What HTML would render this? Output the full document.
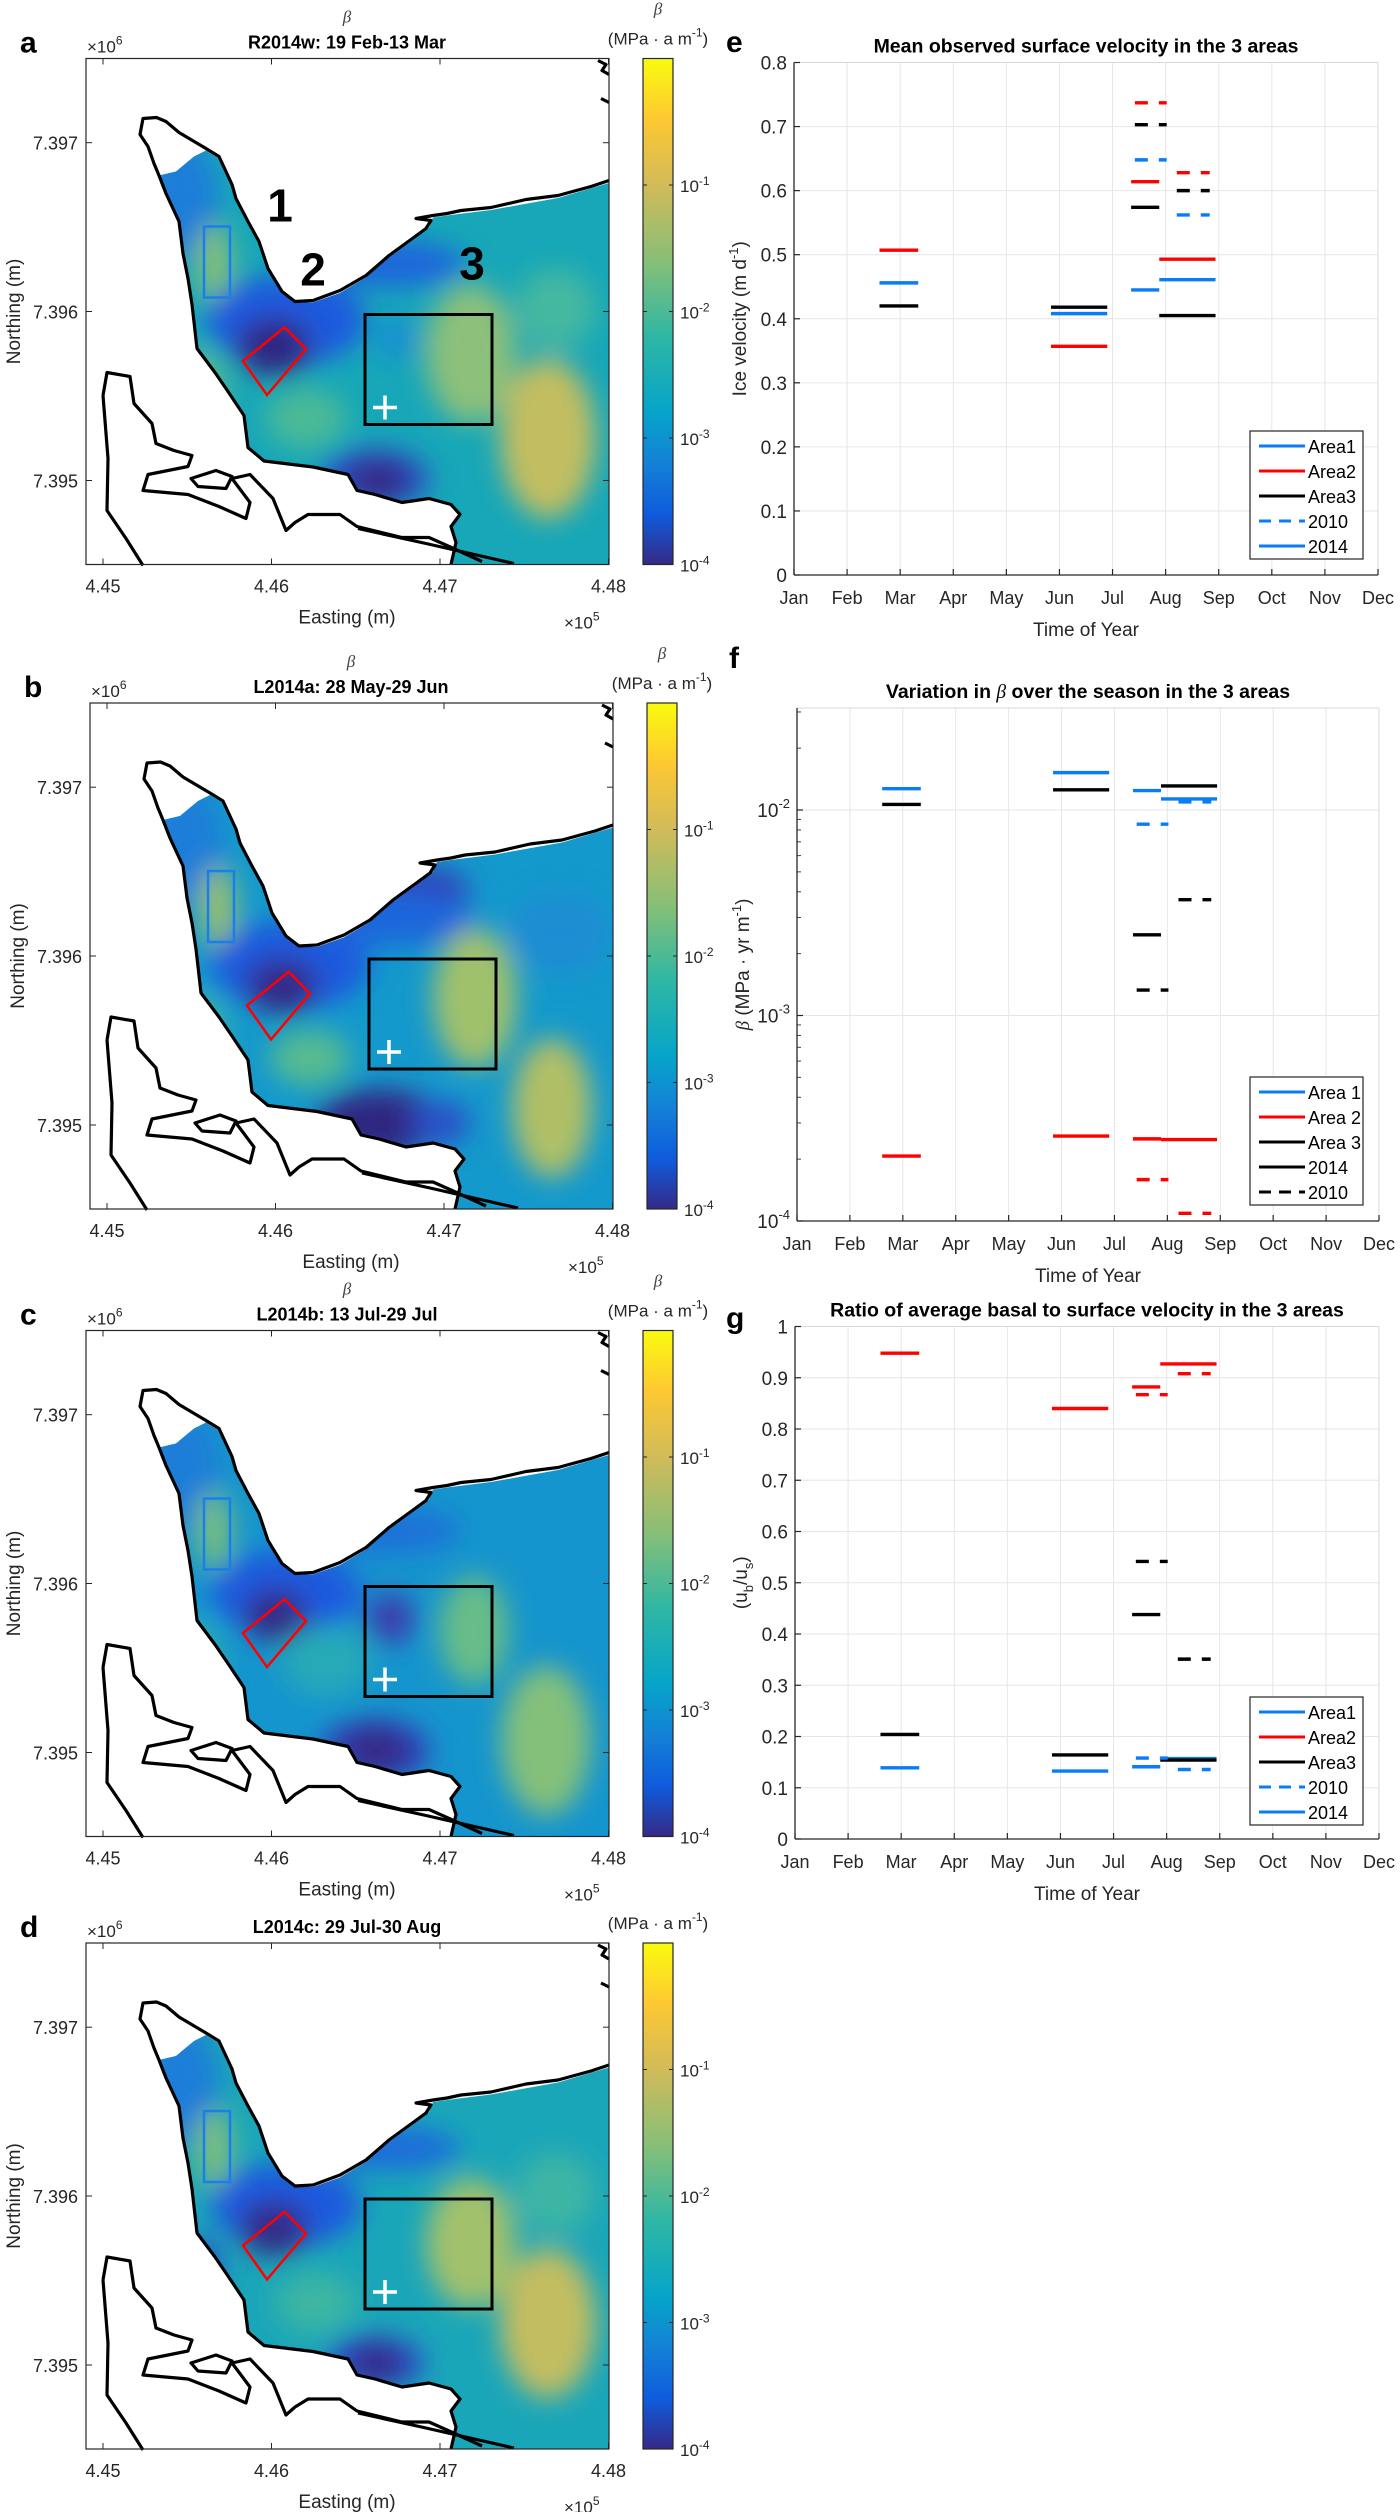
<!DOCTYPE html>
<html><head><meta charset="utf-8"><style>
html,body{margin:0;padding:0;background:#fff;}
svg{display:block;font-family:"Liberation Sans",Arial,sans-serif;}
</style></head><body>
<svg id="fig" xmlns="http://www.w3.org/2000/svg" width="1400" height="2512" viewBox="0 0 1400 2512">
<defs>
<linearGradient id="parula" x1="0" y1="1" x2="0" y2="0">
<stop offset="0" stop-color="#352a87"/><stop offset="0.1" stop-color="#0f5cdd"/><stop offset="0.2" stop-color="#1481d6"/><stop offset="0.3" stop-color="#06a4ca"/><stop offset="0.45" stop-color="#2eb7a4"/><stop offset="0.6" stop-color="#87bf77"/><stop offset="0.75" stop-color="#d1bb59"/><stop offset="0.88" stop-color="#fec832"/><stop offset="1" stop-color="#f9fb0e"/>
</linearGradient>
<filter id="blur" filterUnits="userSpaceOnUse" x="-200" y="-200" width="2000" height="3000"><feGaussianBlur stdDeviation="13"/></filter>
</defs>
</svg>
<script>
const NS='http://www.w3.org/2000/svg';
const svg=document.getElementById('fig');
function mk(tag,attrs,parent,text){const e=document.createElementNS(NS,tag);for(const k in attrs)e.setAttribute(k,attrs[k]);if(text!==undefined)e.textContent=text;(parent||svg).appendChild(e);return e;}

/* ---------------- chart data ---------------- */
const monthLabels=['Jan','Feb','Mar','Apr','May','Jun','Jul','Aug','Sep','Oct','Nov','Dec'];
const segStart2014=[2.61,5.84,7.35,7.88];
const segEnd2014=[3.34,6.90,7.88,8.94];
const segStart2010=[7.42,8.21];
const segEnd2010=[8.02,8.83];
// e: velocity
const velArea1_2014=[0.456,0.408,0.445,0.461];
const velArea2_2014=[0.507,0.357,0.614,0.493];
const velArea3_2014=[0.420,0.418,0.574,0.405];
const velArea1_2010=[0.648,0.562];
const velArea2_2010=[0.737,0.628];
const velArea3_2010=[0.703,0.600];
const velTicks=[0,0.1,0.2,0.3,0.4,0.5,0.6,0.7,0.8];
// f: beta
const betaArea1_2014=[0.0127,0.0152,0.01244,0.01132];
const betaArea2_2014=[2.07e-4,2.59e-4,2.51e-4,2.49e-4];
const betaArea3_2014=[0.01064,0.01254,2.47e-3,0.0131];
const betaArea1_2010=[8.53e-3,0.01094];
const betaArea2_2010=[1.59e-4,1.09e-4];
const betaArea3_2010=[1.33e-3,3.66e-3];
const betaTickExp=[-4,-3,-2];
// g: ratio
const ratioArea1_2014=[0.139,0.1325,0.141,0.157];
const ratioArea2_2014=[0.948,0.840,0.882,0.927];
const ratioArea3_2014=[0.204,0.164,0.438,0.154];
const ratioArea1_2010=[0.158,0.1356];
const ratioArea2_2010=[0.867,0.908];
const ratioArea3_2010=[0.5416,0.351];
const ratioTicks=[0,0.1,0.2,0.3,0.4,0.5,0.6,0.7,0.8,0.9,1];

const BLUE='#0a7cf5',RED='#ff0000',BLACK='#000000';

function drawChart(o){
  const g=mk('g',{});
  
  
  const xs=m=>o.L+(m-1)/11*(o.R-o.L);
  for(let m=1;m<=12;m++){
    const l=mk('line',{x1:xs(m),x2:xs(m),y1:o.T,y2:o.B,stroke:'#e6e6e6','stroke-width':1},g);
    
    
  }
  o.yticks.forEach(v=>{
    const y=o.ys(v);
    const l=mk('line',{x1:o.L,x2:o.R,y1:y,y2:y,stroke:'#e6e6e6','stroke-width':1},g);
    
    
  });
  if(o.minor){o.minor.forEach(v=>{const y=o.ys(v);const t=mk('line',{x1:o.L,x2:o.L+4,y1:y,y2:y,stroke:'#444','stroke-width':1},g);});}
  mk('line',{x1:o.R,x2:o.R,y1:o.T,y2:o.B,stroke:'#d8d8d8','stroke-width':1},g);
  mk('line',{x1:o.L,x2:o.R,y1:o.T,y2:o.T,stroke:'#d8d8d8','stroke-width':1},g);
  const ax=mk('line',{x1:o.L,x2:o.L,y1:o.T,y2:o.B,stroke:'#262626','stroke-width':1.3},g);
  
  
  const bx=mk('line',{x1:o.L,x2:o.R,y1:o.B,y2:o.B,stroke:'#262626','stroke-width':1.3},g);
  
  
  monthLabels.forEach((lab,i)=>{
    const x=xs(i+1);
    mk('line',{x1:x,x2:x,y1:o.B,y2:o.B-6,stroke:'#262626','stroke-width':1.2},g);
    const t=mk('text',{x:x,y:o.B+29,'text-anchor':'middle','font-size':18,fill:'#262626'},g,lab);
    
    
  });
  o.yticks.forEach((v,i)=>{
    const y=o.ys(v);
    mk('line',{x1:o.L,x2:o.L+6,y1:y,y2:y,stroke:'#262626','stroke-width':1.2},g);
    const t=mk('text',{x:o.L-7,y:y+7,'text-anchor':'end','font-size':19,fill:'#262626'},g);
    
    
    if(o.logLabels){mk('tspan',{},t,'10');mk('tspan',{dy:-9,'font-size':13},t,String(o.logLabels[i]));}
    else t.textContent=String(v);
  });
  o.series.forEach(s=>{
    s.vals.forEach((v,i)=>{
      const y=o.ys(v);
      const l=mk('line',{x1:xs(s.x0[i]),x2:xs(s.x1[i]),y1:y,y2:y,stroke:s.color,'stroke-width':3.4},g);
      if(s.dash)l.setAttribute('stroke-dasharray','13 11');
      
      
    });
  });
  const tt=mk('text',{x:(o.L+o.R)/2,y:o.T-10,'text-anchor':'middle','font-size':19.5,'font-weight':'bold',fill:'#000'},g);
  
  
  o.title.forEach(p=>{mk('tspan',p.it?{'font-family':'Liberation Serif, serif','font-style':'italic','font-weight':'normal'}:{},tt,p.t);});
  const lt=mk('text',{x:o.letterX,y:o.letterY,'font-size':30,'font-weight':'bold',fill:'#000'},g,o.letter);
  
  
  const xl=mk('text',{x:(o.L+o.R)/2,y:o.B+61,'text-anchor':'middle','font-size':19,fill:'#262626'},g,'Time of Year');
  
  
  const yl=mk('text',{x:0,y:0,'text-anchor':'middle','font-size':19,fill:'#262626',transform:`translate(${o.L-48},${(o.T+o.B)/2}) rotate(-90)`},g);
  
  
  o.ylabel(yl);
  const lg=mk('g',{},g);
  
  
  mk('rect',{x:1250,y:o.legY,width:113,height:128,fill:'#fff',stroke:'#262626','stroke-width':1.2},lg);
  o.legend.forEach((e,i)=>{
    const y=o.legY+15+i*25;
    const l=mk('line',{x1:1259,x2:1305,y1:y,y2:y,stroke:e.c,'stroke-width':3},lg);
    if(e.d)l.setAttribute('stroke-dasharray','12 8');
    const t=mk('text',{x:1308,y:y+7,'font-size':18,fill:'#000'},lg,e.t);
    
    
  });
}

(function(){
  const T=62.5,B=575;
  drawChart({name:'velocity-chart',L:794,R:1378,T:T,B:B,ys:v=>B-v/0.8*(B-T),yticks:velTicks,
    series:[
      {name:'area2-2014',color:RED,vals:velArea2_2014,x0:segStart2014,x1:segEnd2014},
      {name:'area1-2014',color:BLUE,vals:velArea1_2014,x0:segStart2014,x1:segEnd2014},
      {name:'area3-2014',color:BLACK,vals:velArea3_2014,x0:segStart2014,x1:segEnd2014},
      {name:'area1-2010',color:BLUE,dash:1,vals:velArea1_2010,x0:segStart2010,x1:segEnd2010},
      {name:'area2-2010',color:RED,dash:1,vals:velArea2_2010,x0:segStart2010,x1:segEnd2010},
      {name:'area3-2010',color:BLACK,dash:1,vals:velArea3_2010,x0:segStart2010,x1:segEnd2010}],
    title:[{t:'Mean observed surface velocity in the 3 areas'}],letter:'e',letterX:726,letterY:52,
    ylabel:t=>{mk('tspan',{},t,'Ice velocity (m d');mk('tspan',{dy:-8,'font-size':13},t,'-1');mk('tspan',{dy:8},t,')');},
    legY:431,legend:[{t:'Area1',c:BLUE},{t:'Area2',c:RED},{t:'Area3',c:BLACK},{t:'2010',c:BLUE,d:1},{t:'2014',c:BLUE}]});
})();
(function(){
  const T=708,B=1221,dec=205.5;
  const minor=[];for(let e=-4;e<-1;e++)for(let k=2;k<10;k++){const v=k*Math.pow(10,e);if(Math.log10(v)<=-1.5)minor.push(v);}
  drawChart({name:'beta-chart',L:797,R:1379,T:T,B:B,ys:v=>B-(Math.log10(v)+4)*dec,yticks:betaTickExp.map(e=>Math.pow(10,e)),logLabels:betaTickExp,minor:minor,
    series:[
      {name:'area1-2014',color:BLUE,vals:betaArea1_2014,x0:segStart2014,x1:segEnd2014},
      {name:'area2-2014',color:RED,vals:betaArea2_2014,x0:segStart2014,x1:segEnd2014},
      {name:'area3-2014',color:BLACK,vals:betaArea3_2014,x0:segStart2014,x1:segEnd2014},
      {name:'area1-2010',color:BLUE,dash:1,vals:betaArea1_2010,x0:segStart2010,x1:segEnd2010},
      {name:'area2-2010',color:RED,dash:1,vals:betaArea2_2010,x0:segStart2010,x1:segEnd2010},
      {name:'area3-2010',color:BLACK,dash:1,vals:betaArea3_2010,x0:segStart2010,x1:segEnd2010}],
    title:[{t:'Variation in '},{t:'β',it:1},{t:' over the season in the 3 areas'}],letter:'f',letterX:729,letterY:668,
    ylabel:t=>{mk('tspan',{'font-family':'Liberation Serif, serif','font-style':'italic'},t,'β');mk('tspan',{},t,' (MPa · yr m');mk('tspan',{dy:-8,'font-size':13},t,'-1');mk('tspan',{dy:8},t,')');},
    legY:1077,legend:[{t:'Area 1',c:BLUE},{t:'Area 2',c:RED},{t:'Area 3',c:BLACK},{t:'2014',c:BLACK},{t:'2010',c:BLACK,d:1}]});
})();
(function(){
  const T=1326.5,B=1839;
  drawChart({name:'ratio-chart',L:795,R:1379,T:T,B:B,ys:v=>B-v*(B-T),yticks:ratioTicks,
    series:[
      {name:'area2-2014',color:RED,vals:ratioArea2_2014,x0:segStart2014,x1:segEnd2014},
      {name:'area1-2014',color:BLUE,vals:ratioArea1_2014,x0:segStart2014,x1:segEnd2014},
      {name:'area3-2014',color:BLACK,vals:ratioArea3_2014,x0:segStart2014,x1:segEnd2014},
      {name:'area1-2010',color:BLUE,dash:1,vals:ratioArea1_2010,x0:segStart2010,x1:segEnd2010},
      {name:'area2-2010',color:RED,dash:1,vals:ratioArea2_2010,x0:segStart2010,x1:segEnd2010},
      {name:'area3-2010',color:BLACK,dash:1,vals:ratioArea3_2010,x0:segStart2010,x1:segEnd2010}],
    title:[{t:'Ratio of average basal to surface velocity in the 3 areas'}],letter:'g',letterX:726,letterY:1328,
    ylabel:t=>{mk('tspan',{},t,'(u');mk('tspan',{dy:6,'font-size':13},t,'b');mk('tspan',{dy:-6},t,'/u');mk('tspan',{dy:6,'font-size':13},t,'s');mk('tspan',{dy:-6},t,')');},
    legY:1697,legend:[{t:'Area1',c:BLUE},{t:'Area2',c:RED},{t:'Area3',c:BLACK},{t:'2010',c:BLUE,d:1},{t:'2014',c:BLUE}]});
})();

/* ---------------- maps ---------------- */
const iceClip=[[523,124.5],[472,139.5],[405,151.5],[361,157],[347,159],[343,169],[325,183],[303,199],[280,219],[254,234.5],[227,244],[209,244],[196,234.5],[182,211],[173,183],[162,163],[146,128],[133,100],[120,92],[108,98],[90,113],[73,117],[80,135],[93,163],[97,195],[106,246],[111,290],[129,314],[142,333],[158,357],[162,389],[178,402.5],[227,408.5],[262,416],[271,432],[289,436],[316,444],[343,440],[365,446],[374,456],[365,468],[370,484],[365,506],[523,506]];
const coastMain=[[523,122],[505,128],[472,137],[440,141],[405,149],[375,152],[361,155],[347,157],[330,160],[345,162],[340,170],[325,181],[303,197],[280,217],[254,232],[227,242],[209,243],[196,233],[182,210],[173,183],[162,163],[150,140],[146,126],[133,98],[120,90],[93,74],[80,63],[70.5,59],[57,60],[54,76],[62,88],[68,105],[73,117],[80,135],[93,163],[97,195],[102,220],[106,246],[111,290],[129,314],[142,333],[158,357],[162,389],[178,402.5],[227,408.5],[262,416],[271,432],[289,436],[316,444],[343,440],[365,446],[374,456],[365,468],[370,484],[365,506]];
const islandLine=[[17,337],[21,314],[44,318],[48,345],[66,365],[70,385],[88,392],[106,397],[102,408],[62,416],[57,432],[102,436],[133,448],[160,460],[164,444],[146,420],[164,416],[187,440],[200,472],[209,464],[222,456],[254,456],[271,468],[316,479],[343,479],[361,487],[396,503]];
const leftLine=[[17,337],[22,400],[21,452],[40,480],[57,507]];
const bottomDiag=[[272,470],[340,485],[428,505]];
const islandSmall=[[105,420],[130,412],[146,418],[140,430],[112,428],[105,420]];
const pts=a=>a.map(p=>p.join(',')).join(' ');

const blobSets={
 a:{base:'#17a7b8',blobs:[[95,140,38,60,'#1d7ed8'],[128,205,18,40,'#86c078'],[110,330,30,40,'#5cbb8e'],[200,262,80,45,'#1a5ade'],[188,288,38,30,'#352a87'],[190,288,22,18,'#2e2580'],[300,205,80,24,'#1a66db'],[289,420,55,30,'#2a4fc8'],[292,422,32,22,'#352a87'],[385,295,45,70,'#8cc07a'],[310,280,22,22,'#1790d2'],[462,380,48,80,'#c2bd60'],[470,250,40,40,'#44b8a0'],[220,360,40,30,'#4cba96']]},
 b:{base:'#1499cc',blobs:[[95,140,38,60,'#1d7ed8'],[128,205,18,42,'#9ac06f'],[110,330,25,40,'#40b6a4'],[200,262,80,44,'#1a5ade'],[192,283,36,28,'#352a87'],[320,185,60,22,'#3340b8'],[300,215,85,28,'#1a66db'],[290,420,65,34,'#352a87'],[285,422,40,22,'#2e2580'],[350,420,30,22,'#2a4fc8'],[385,295,42,70,'#a0c16c'],[462,405,40,70,'#b0bf66'],[470,230,50,40,'#1c8dd2'],[220,355,40,28,'#56bb90']]},
 c:{base:'#1595cd',blobs:[[95,140,38,60,'#1d7ed8'],[128,200,18,40,'#78bf7f'],[110,330,25,40,'#2fb1ad'],[200,262,75,42,'#1a5ade'],[190,285,32,27,'#352a87'],[300,200,75,24,'#1b72d8'],[289,420,55,32,'#3140b8'],[290,420,32,24,'#352a87'],[305,288,24,26,'#3a3fae'],[388,300,35,55,'#68bd88'],[460,410,45,75,'#84c07a'],[240,330,45,35,'#27aab8']]},
 d:{base:'#1aa6b9',blobs:[[95,140,38,60,'#1d7ed8'],[128,205,18,40,'#7fbf7c'],[115,325,20,30,'#2a4fc8'],[200,262,75,42,'#1a5ade'],[188,285,34,28,'#352a87'],[300,205,75,22,'#1a6cda'],[289,420,50,28,'#2a4fc8'],[290,420,28,20,'#352a87'],[385,300,45,65,'#a2c16c'],[462,380,48,75,'#c2bd60'],[470,250,40,40,'#3db5a4'],[230,360,40,30,'#3eb6a2']]}
};

function drawMap(id,ox,oy,letter,title,showBeta){
  const g=mk('g',{transform:`translate(${ox},${oy})`});
  
  
  const cp=mk('clipPath',{id:'clip'+id},g);
  mk('polygon',{points:pts(iceClip)},cp);
  const set=blobSets[id];
  const field=mk('g',{'clip-path':`url(#clip${id})`},g);
  
  
  mk('rect',{x:0,y:0,width:523,height:506,fill:set.base},field);
  const bl=mk('g',{filter:'url(#blur)'},field);
  set.blobs.forEach(b=>{mk('ellipse',{cx:b[0],cy:b[1],rx:b[2],ry:b[3],fill:b[4]},bl);});
  const outl=mk('g',{fill:'none',stroke:'#000','stroke-width':3.2,'stroke-linejoin':'round'},g);
  
  
  [coastMain,islandLine,leftLine,bottomDiag].forEach(a=>mk('polyline',{points:pts(a)},outl));
  mk('polygon',{points:pts(islandSmall)},outl);
  mk('polyline',{points:'512,2 520,6 516,12 523,16'},outl);
  mk('polyline',{points:'515,40 523,44'},outl);
  const r1=mk('rect',{x:118,y:168,width:26,height:71,fill:'none',stroke:'#1a7fe6','stroke-width':2.5},g);
  
  
  const r2=mk('polygon',{points:'157,302.5 198.6,268.8 220,290.6 181,336.5',fill:'none',stroke:'#f00','stroke-width':2.5},g);
  
  
  const r3=mk('rect',{x:279,y:256,width:127,height:110,fill:'none',stroke:'#000','stroke-width':3},g);
  
  
  const pl=mk('path',{d:'M287,349 H311 M299,337 V361',stroke:'#fff','stroke-width':3.5},g);
  
  
  if(id==='a'){
    [['1',194,163],['2',227,227],['3',386,221]].forEach(l=>{const t=mk('text',{x:l[1],y:l[2],'text-anchor':'middle','font-size':46,'font-weight':'bold',fill:'#000'},g,l[0]);});
  }
  mk('rect',{x:0,y:0,width:523,height:506,fill:'none',stroke:'#262626','stroke-width':1.2},g);
  const xt=[[17,'4.45'],[185.5,'4.46'],[354,'4.47'],[522.5,'4.48']];
  xt.forEach(t=>{mk('line',{x1:t[0],x2:t[0],y1:506,y2:500,stroke:'#262626'},g);mk('line',{x1:t[0],x2:t[0],y1:0,y2:6,stroke:'#262626'},g);
    const e=mk('text',{x:t[0],y:534,'text-anchor':'middle','font-size':18,fill:'#262626'},g,t[1]);});
  const yt=[[84.2,'7.397'],[253,'7.396'],[422,'7.395']];
  yt.forEach(t=>{mk('line',{x1:0,x2:6,y1:t[0],y2:t[0],stroke:'#262626'},g);mk('line',{x1:523,x2:517,y1:t[0],y2:t[0],stroke:'#262626'},g);
    const e=mk('text',{x:-8,y:t[0]+7,'text-anchor':'end','font-size':18,fill:'#262626'},g,t[1]);});
  const et=mk('text',{x:261,y:565,'text-anchor':'middle','font-size':19,fill:'#262626'},g,'Easting (m)');
  
  
  const x5=mk('text',{x:478,y:570,'font-size':17,fill:'#262626'},g);
  mk('tspan',{},x5,'×10');mk('tspan',{dy:-8,'font-size':12},x5,'5');
  const x6=mk('text',{x:1,y:-6,'font-size':17,fill:'#262626'},g);
  mk('tspan',{},x6,'×10');mk('tspan',{dy:-8,'font-size':12},x6,'6');
  const nt=mk('text',{x:0,y:0,'text-anchor':'middle','font-size':19,fill:'#262626',transform:'translate(-66,253) rotate(-90)'},g,'Northing (m)');
  
  
  const tt=mk('text',{x:261,y:-10,'text-anchor':'middle','font-size':18,'font-weight':'bold',fill:'#000'},g,title);
  
  
  if(showBeta){mk('text',{x:261,y:-36,'text-anchor':'middle','font-size':17,'font-style':'italic','font-family':'Liberation Serif, serif',fill:'#444'},g,'β');
    mk('text',{x:572,y:-44,'text-anchor':'middle','font-size':17,'font-style':'italic','font-family':'Liberation Serif, serif',fill:'#444'},g,'β');}
  const lt=mk('text',{x:-66,y:-6,'font-size':30,'font-weight':'bold',fill:'#000'},g,letter);
  
  
  const cb=mk('g',{},g);
  
  
  mk('rect',{x:557,y:0,width:30,height:506,fill:'url(#parula)',stroke:'#262626','stroke-width':1.2},cb);
  [-1,-2,-3,-4].forEach(e=>{const y=506-(e+4)*126.5;
    mk('line',{x1:557,x2:561,y1:y,y2:y,stroke:'#262626'},cb);mk('line',{x1:587,x2:583,y1:y,y2:y,stroke:'#262626'},cb);
    const t=mk('text',{x:594,y:y+7,'font-size':17,fill:'#262626'},cb);
    
    
    mk('tspan',{},t,'10');mk('tspan',{dy:-7,'font-size':12},t,String(e));});
  const cl=mk('text',{x:572,y:-14,'text-anchor':'middle','font-size':17,fill:'#262626'},cb);
  
  
  mk('tspan',{},cl,'(MPa · a m');mk('tspan',{dy:-8,'font-size':12},cl,'-1');mk('tspan',{dy:8},cl,')');
}
drawMap('a',86,58.5,'a','R2014w: 19 Feb-13 Mar',true);
drawMap('b',90,703,'b','L2014a: 28 May-29 Jun',true);
drawMap('c',86,1330.5,'c','L2014b: 13 Jul-29 Jul',true);
drawMap('d',86,1943,'d','L2014c: 29 Jul-30 Aug',false);
</script>
</body></html>
